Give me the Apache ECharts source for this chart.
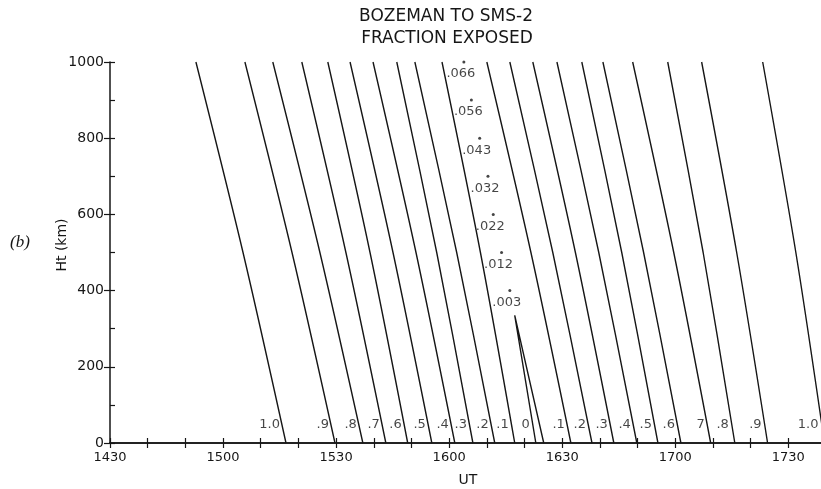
<!DOCTYPE html>
<html>
<head>
<meta charset="utf-8">
<script src="https://cdn.jsdelivr.net/npm/echarts@6/dist/echarts.min.js"></script>
<style>
  html, body { margin: 0; padding: 0; background: #fff; }
  #chart { width: 821px; height: 489px; }
</style>
</head>
<body>
<div id="chart"></div>
<script>
// Heights (km) at which each contour's UT position is given
const curveHeights = [0, 500, 1000];

// Contour labels, west of the minimum (1.0 ... .1) and east of it (.1 ... 1.0)
const westLabels = ['1.0', '.9', '.8', '.7', '.6', '.5', '.4', '.3', '.2', '.1'];
const eastLabels = ['.1', '.2', '.3', '.4', '.5', '.6', '7', '.8', '.9', '1.0'];

// UT (minutes of day) of each contour at the heights in curveHeights
const westUT = [
  [916.7, 905.3, 892.8],
  [929.7, 918.3, 905.8],
  [937.1, 925.7, 913.2],
  [943.2, 932.6, 920.9],
  [949.0, 939.0, 927.8],
  [955.4, 945.1, 933.7],
  [961.5, 951.2, 939.8],
  [966.3, 956.7, 946.1],
  [972.1, 962.0, 950.9],
  [977.4, 968.3, 958.1]
];
const eastUT = [
  [992.3, 981.7, 970.0],
  [997.9, 987.5, 976.1],
  [1003.7, 993.5, 982.2],
  [1009.8, 999.7, 988.6],
  [1015.4, 1005.8, 995.2],
  [1021.5, 1011.6, 1000.8],
  [1029.4, 1019.6, 1008.7],
  [1035.8, 1027.4, 1018.0],
  [1044.5, 1036.3, 1027.0],
  [1059.6, 1052.0, 1043.2]
];

// Zero contour: closes below the 400 km level
const zeroUT = [983.0, 977.4, 985.1];
const zeroHt = [0, 335, 0];

// Minimum exposed fraction along the path, marked by dots
const minFraction = ['.066', '.056', '.043', '.032', '.022', '.012', '.003'];
const minHeight = [1000, 900, 800, 700, 600, 500, 400];
const minUT = [963.9, 965.9, 968.1, 970.3, 971.7, 973.9, 976.1];

// Height at which the contour labels sit above the UT axis
const labelHeight = 47;

const INK = '#161616';
const FONT = 'DejaVu Sans';

function utLabel(v) {
  if (v % 30 !== 0 || v >= 1060) return '';
  return String(Math.floor(v / 60) * 100 + (v % 60));
}

const series = [];

function addContour(xs, label) {
  series.push({
    type: 'line',
    data: xs.map((x, i) => [x, curveHeights[i]]),
    smooth: 0.3,
    showSymbol: false,
    lineStyle: { color: INK, width: 1.4 },
    clip: true,
    silent: true
  });
  series.push({
    type: 'scatter',
    data: [{ value: [xs[0], labelHeight], name: label }],
    symbolSize: 0,
    label: {
      show: true, position: 'left', distance: 6,
      formatter: '{b}', color: INK, fontFamily: FONT, fontSize: 13
    },
    silent: true
  });
}

westUT.forEach((xs, i) => addContour(xs, westLabels[i]));
eastUT.forEach((xs, i) => addContour(xs, eastLabels[i]));

series.push({
  type: 'line',
  data: zeroUT.map((x, i) => [x, zeroHt[i]]),
  showSymbol: false,
  lineStyle: { color: INK, width: 1.4 },
  silent: true
});
series.push({
  type: 'scatter',
  data: [{ value: [zeroUT[0], labelHeight], name: '0' }],
  symbolSize: 0,
  label: {
    show: true, position: 'left', distance: 6,
    formatter: '{b}', color: INK, fontFamily: FONT, fontSize: 13
  },
  silent: true
});

series.push({
  type: 'scatter',
  data: minUT.map((x, i) => ({ value: [x, minHeight[i]], name: minFraction[i] })),
  symbol: 'circle',
  symbolSize: 3,
  itemStyle: { color: INK },
  label: {
    show: true, position: 'bottom', distance: 4, offset: [-3, 0],
    formatter: '{b}', color: INK, fontFamily: FONT, fontSize: 13
  },
  silent: true
});

const axisLine = { show: true, lineStyle: { color: INK, width: 1.5 } };

const chart = echarts.init(document.getElementById('chart'));
chart.setOption({
  animation: false,
  backgroundColor: '#fff',
  grid: { left: 110, right: -5, top: 62, bottom: 46, outerBoundsMode: 'none' },
  xAxis: [
    {
      type: 'value', position: 'bottom', min: 870, max: 1060, interval: 10,
      axisLine: axisLine,
      axisTick: { show: true, inside: true, length: 5, lineStyle: { color: INK, width: 1.2 } },
      axisLabel: { formatter: utLabel, color: INK, fontFamily: FONT, fontSize: 13, margin: 8 },
      splitLine: { show: false },
      name: 'UT', nameLocation: 'middle', nameGap: 30,
      nameTextStyle: { color: INK, fontFamily: FONT, fontSize: 14 }
    },
    {
      type: 'value', position: 'top', min: 870, max: 1060, interval: 10,
      axisLine: axisLine,
      axisTick: { show: true, inside: true, length: 5, lineStyle: { color: INK, width: 1.2 } },
      axisLabel: { show: false },
      splitLine: { show: false }
    }
  ],
  yAxis: [
    {
      type: 'value', position: 'left', min: 0, max: 1000, interval: 200,
      axisLine: axisLine,
      axisTick: { show: true, inside: false, length: 6, lineStyle: { color: INK, width: 1.2 } },
      axisLabel: { formatter: v => String(v), color: INK, fontFamily: FONT, fontSize: 14, margin: 6 },
      splitLine: { show: false }
    },
    {
      type: 'value', position: 'left', min: 0, max: 1000, interval: 100,
      axisLine: { show: false },
      axisTick: { show: true, inside: true, length: 5, lineStyle: { color: INK, width: 1.2 } },
      axisLabel: { show: false },
      splitLine: { show: false }
    }
  ],
  graphic: [
    {
      type: 'text', x: 446, y: 17,
      style: { text: 'BOZEMAN TO SMS-2', fill: INK, font: '17px "DejaVu Sans"', textAlign: 'center', textVerticalAlign: 'middle' }
    },
    {
      type: 'text', x: 447, y: 39,
      style: { text: 'FRACTION EXPOSED', fill: INK, font: '17px "DejaVu Sans"', textAlign: 'center', textVerticalAlign: 'middle' }
    },
    {
      type: 'text', x: 20, y: 243,
      style: { text: '(b)', fill: INK, font: 'italic 17px "Liberation Serif"', textAlign: 'center', textVerticalAlign: 'middle' }
    },
    {
      type: 'text', x: 62, y: 245, rotation: Math.PI / 2,
      style: { text: 'Ht (km)', fill: INK, font: '14px "DejaVu Sans"', textAlign: 'center', textVerticalAlign: 'middle' }
    }
  ],
  series: series
});
</script>
</body>
</html>
